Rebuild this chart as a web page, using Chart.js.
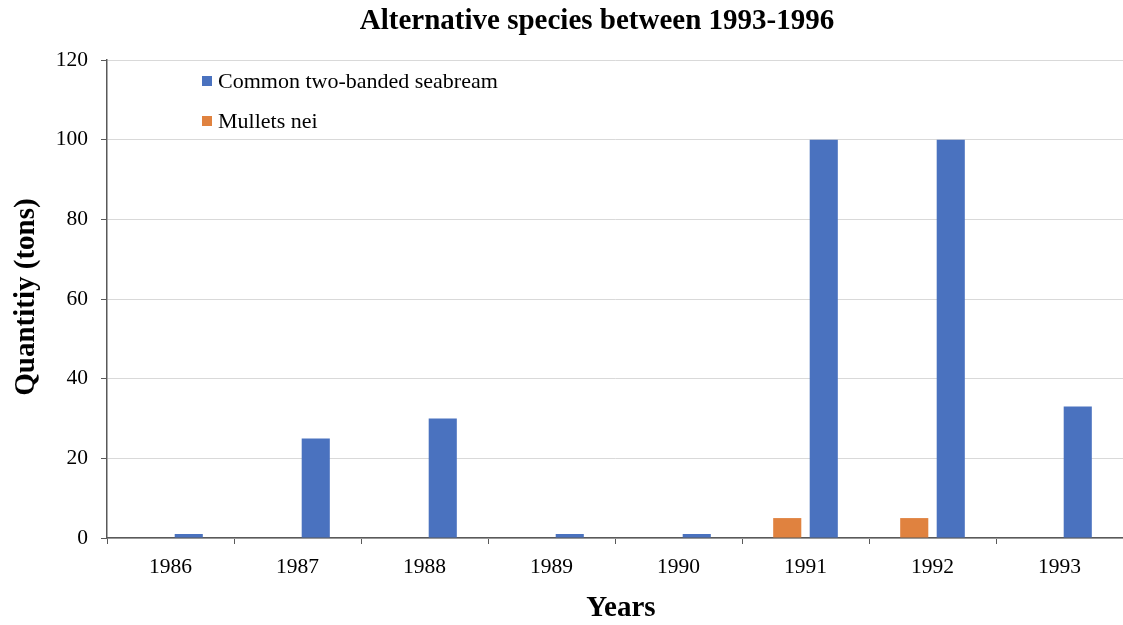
<!DOCTYPE html>
<html>
<head>
<meta charset="utf-8">
<script src="https://cdn.jsdelivr.net/npm/chart.js@4.4.1/dist/chart.umd.min.js"></script>
<style>
  html, body { margin: 0; padding: 0; background: #fff; }
  #wrap { width: 1123px; height: 625px; position: relative; }
</style>
</head>
<body>
<div id="wrap"><canvas id="chartCanvas"></canvas></div>
<script>
// data
const years = ["1986", "1987", "1988", "1989", "1990", "1991", "1992", "1993"];
const seabreamValues = [1, 25, 30, 1, 1, 100, 100, 33];
const mulletsValues = [0, 0, 0, 0, 0, 5, 5, 0];
const yTicks = [0, 20, 40, 60, 80, 100, 120];

const SERIF = "'Liberation Serif', 'Times New Roman', serif";
const AXIS_DARK = "#595959";

// chart title and axis titles, placed like the reference
const textPlugin = {
    id: "titleText",
    afterDraw(chart) {
        const ctx = chart.ctx;
        ctx.save();
        ctx.fillStyle = "#000";
        ctx.textAlign = "center";
        ctx.textBaseline = "middle";

        ctx.font = "bold 29px " + SERIF;
        ctx.fillText("Alternative species between 1993-1996", 597, 22);

        ctx.font = "bold 29px " + SERIF;
        ctx.fillText("Years", 621, 609);

        ctx.translate(27, 297);
        ctx.rotate(-Math.PI / 2);
        ctx.fillText("Quantitiy (tons)", 0, 0);
        ctx.restore();
    }
};

// legend sits inside the plot, blue entry first
const insideLegend = {
    id: "insideLegend",
    afterDraw(chart) {
        const ctx = chart.ctx;
        const sets = chart.data.datasets.slice().reverse();
        ctx.save();
        ctx.font = "22px " + SERIF;
        ctx.textBaseline = "middle";
        sets.forEach(function (ds, i) {
            const y = 81 + i * 40;
            ctx.fillStyle = ds.backgroundColor;
            ctx.fillRect(202, y - 5, 10, 10);
            ctx.fillStyle = "#000";
            ctx.fillText(ds.label, 218, y + 1);
        });
        ctx.restore();
    }
};

new Chart(document.getElementById("chartCanvas"), {
    type: "bar",
    data: {
        labels: years,
        datasets: [
            {
                label: "Mullets nei",
                data: mulletsValues,
                backgroundColor: "#E0823F",
            },
            {
                label: "Common two-banded seabream",
                data: seabreamValues,
                backgroundColor: "#4A72BF",
            },
        ],
    },
    options: {
        responsive: true,
        maintainAspectRatio: false,
        animation: false,
        categoryPercentage: 0.575,
        barPercentage: 0.77,
        layout: { padding: { top: 60, right: -2, left: 0, bottom: 0 } },
        plugins: {
            legend: { display: false },
            title: { display: false },
            tooltip: { enabled: false },
        },
        scales: {
            x: {
                afterFit: function (scale) { scale.height = 87; },
                grid: {
                    offset: true,
                    drawOnChartArea: false,
                    tickLength: 6,
                    tickColor: AXIS_DARK,
                },
                border: { color: AXIS_DARK, width: 1.5 },
                ticks: {
                    padding: 10,
                    color: "#000",
                    font: { family: SERIF, size: 21.5 },
                    maxRotation: 0,
                },
            },
            y: {
                min: 0,
                max: 120,
                afterFit: function (scale) { scale.width = 107; },
                afterBuildTicks: function (scale) {
                    scale.ticks = yTicks.map(v => ({ value: v }));
                },
                grid: {
                    color: "#d9d9d9",
                    tickColor: AXIS_DARK,
                    tickLength: 6,
                },
                border: { color: AXIS_DARK, width: 1.5 },
                ticks: {
                    padding: 13,
                    color: "#000",
                    font: { family: SERIF, size: 21.5 },
                },
            },
        },
    },
    plugins: [textPlugin, insideLegend],
});
</script>
</body>
</html>
